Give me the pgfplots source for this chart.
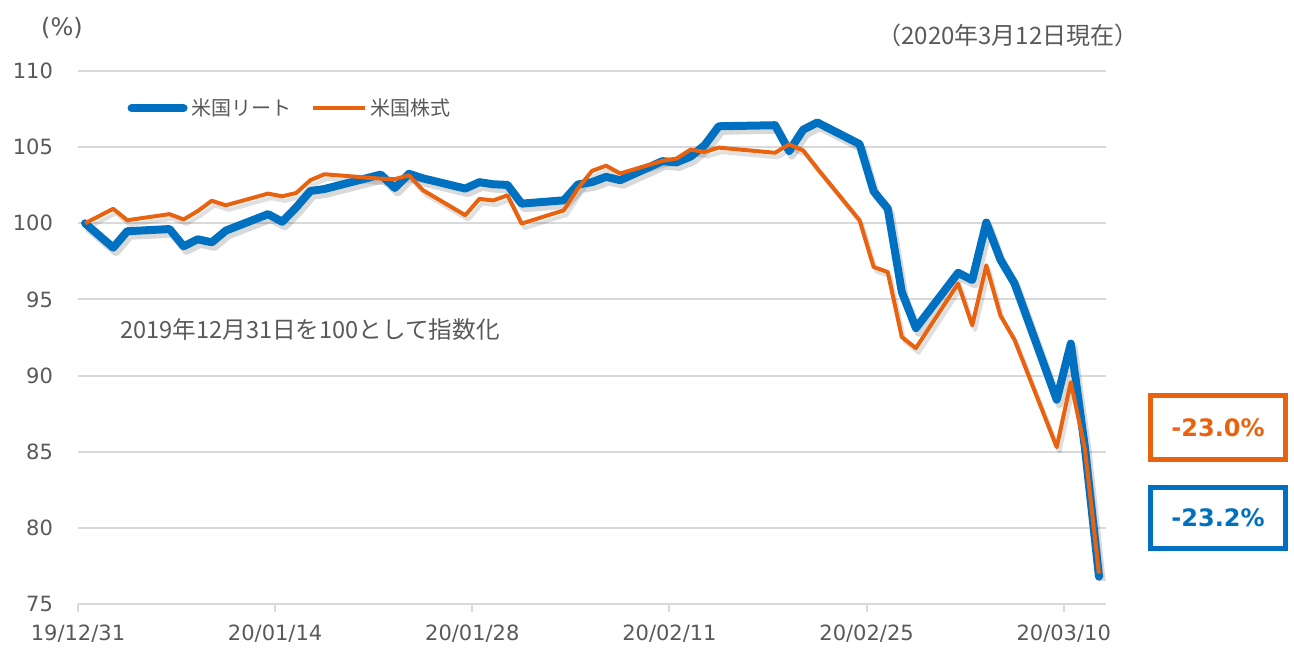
\documentclass[border=0pt]{standalone}
\usepackage{fontspec}
\usepackage{pgfplots}
\pgfplotsset{compat=1.18}
\usepackage{pgfplotstable}
\setmainfont{DejaVu Sans}
\newfontfamily\jp{Noto Sans CJK JP}
\definecolor{reit}{HTML}{0070C0}
\definecolor{stock}{HTML}{E9620F}
\definecolor{txt}{HTML}{595959}
\definecolor{grd}{HTML}{D9D9D9}

\pgfplotstableread{
d reit stock
0 100.00 100.00
2 98.40 100.95
3 99.48 100.20
6 99.62 100.60
7 98.49 100.25
8 98.95 100.80
9 98.75 101.48
10 99.52 101.18
13 100.60 101.95
14 100.10 101.77
15 101.05 101.99
16 102.12 102.83
17 102.25 103.22
21 103.20 102.93
22 102.32 102.90
23 103.25 103.15
24 102.95 102.17
27 102.28 100.53
28 102.70 101.60
29 102.56 101.50
30 102.52 101.84
31 101.29 99.98
34 101.51 100.85
35 102.55 102.28
36 102.70 103.44
37 103.05 103.78
38 102.83 103.27
41 104.08 104.10
42 104.00 104.25
43 104.38 104.84
44 105.13 104.68
45 106.37 104.97
49 106.44 104.63
50 104.75 105.18
51 106.15 104.78
52 106.62 103.60
55 105.20 100.20
56 102.10 97.13
57 100.97 96.80
58 95.49 92.53
59 93.12 91.80
62 96.75 96.04
63 96.27 93.30
64 100.05 97.24
65 97.62 93.95
66 96.06 92.36
69 88.42 85.30
70 92.10 89.57
71 85.30 85.20
72 76.80 77.00
}\data

\begin{document}
\begin{tikzpicture}
\begin{axis}[
  at={(39pt,22pt)}, anchor=south west,
  width=514pt, height=266.5pt, scale only axis,
  xmin=-0.5, xmax=72.5, ymin=75, ymax=110,
  xtick={-0.5,13.5,27.5,41.5,55.5,69.5},
  xticklabels={19/12/31,20/01/14,20/01/28,20/02/11,20/02/25,20/03/10},
  ytick={75,80,...,110},
  axis y line*=left, axis x line*=bottom,
  y axis line style={draw=none},
  x axis line style={draw=grd, line width=1pt},
  ytick style={draw=none},
  xtick style={draw=grd, line width=1pt},
  tick align=outside, major tick length=4pt,
  ymajorgrids, grid style={grd, line width=1pt},
  tick label style={font=\fontsize{10.5}{12}\selectfont, text=txt},
  /pgf/number format/assume math mode=true,
  yticklabel style={xshift=-5pt},
  xticklabel style={yshift=-3pt},
  legend style={at={(rel axis cs:0.042,0.93)}, anchor=west, draw=none, fill=none,
    legend columns=2, font=\jp\fontsize{10}{12}\selectfont, text=txt,
    /tikz/every even column/.append style={column sep=7.5pt}},
  legend image code/.code={\draw[#1] (0pt,0pt) -- (26pt,0pt);},
  clip=false,
]
\addplot[forget plot, black, opacity=0.15, line width=4pt, line join=round]
  table[x expr=\thisrow{d}+0.2, y expr=\thisrow{reit}-0.3]{\data};
\addplot[forget plot, black, opacity=0.12, line width=2pt, line join=round]
  table[x expr=\thisrow{d}+0.2, y expr=\thisrow{stock}-0.3]{\data};
\addplot[reit, line width=4pt, line join=round, line cap=round] table[x=d, y=reit]{\data};
\addlegendentry{米国リート}
\addplot[stock, line width=2pt, line join=round] table[x=d, y=stock]{\data};
\addlegendentry{米国株式}
\end{axis}
\node[font=\fontsize{12}{14}\selectfont, text=txt] at (31pt,310pt) {(\%)};
\node[font=\jp\fontsize{12}{14}\selectfont, text=txt] at (504pt,306.5pt) {（2020年3月12日現在）};
\node[font=\jp\fontsize{11.8}{14}\selectfont, text=txt, anchor=west, inner sep=0pt] at (60pt,159pt) {2019年12月31日を100として指数化};
\node[draw=stock, line width=2.5pt, minimum width=67.5pt, minimum height=32pt, inner sep=0pt,
  text=stock, font=\bfseries\fontsize{12}{14}\selectfont] at (609pt,110.25pt) {-23.0\%};
\node[draw=reit, line width=2.5pt, minimum width=67.5pt, minimum height=30.5pt, inner sep=0pt,
  text=reit, font=\bfseries\fontsize{12}{14}\selectfont] at (609pt,65pt) {-23.2\%};
\pgfresetboundingbox
\path (0pt,0pt) rectangle (647pt,324pt);
\end{tikzpicture}
\end{document}
